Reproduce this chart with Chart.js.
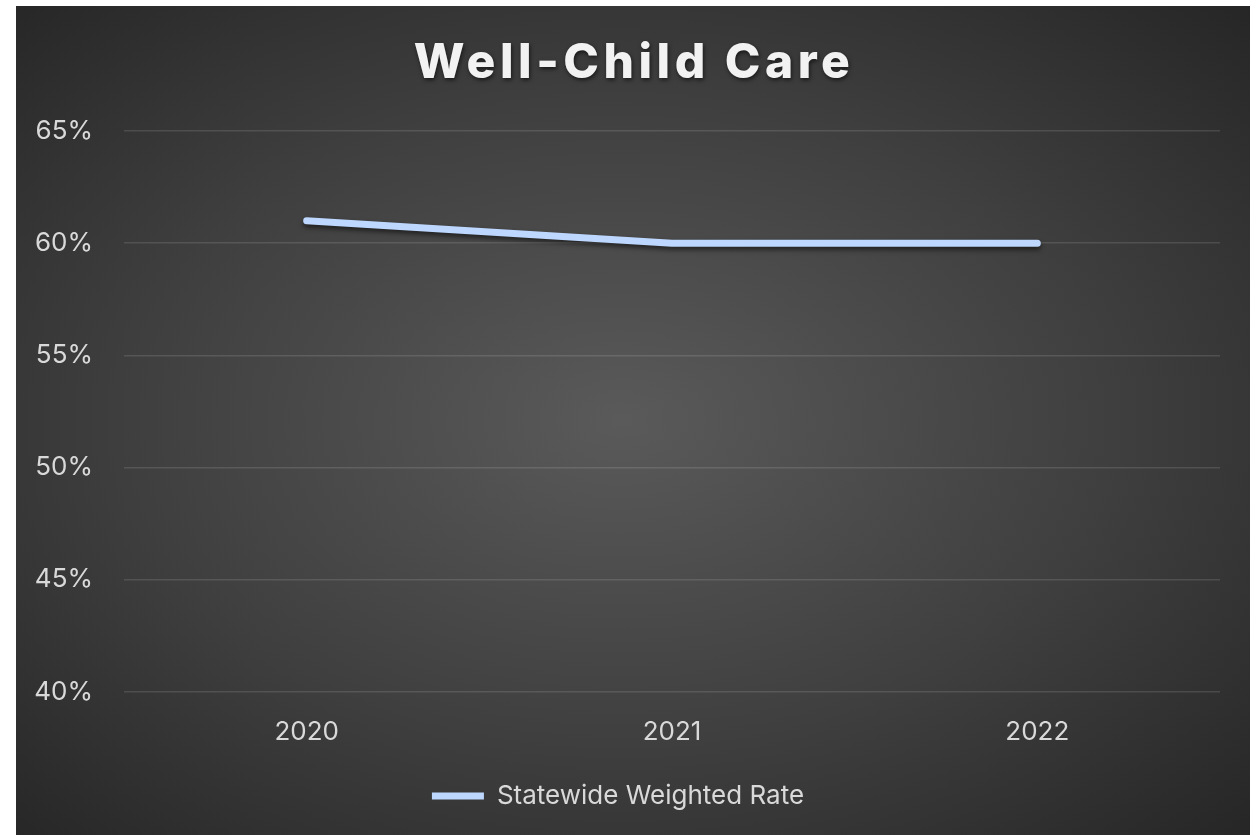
<!DOCTYPE html>
<html lang="en">

<head>
    <meta charset="UTF-8">
    <title>Well-Child Care</title>
    <script src="https://cdn.jsdelivr.net/npm/chart.js"></script>
    <style>
        body {
            margin: 0;
            background: #ffffff;
        }
        .chart-box {
            position: absolute;
            left: 16px;
            top: 6px;
            width: 1234px;
            height: 829px;
            background: radial-gradient(ellipse at 49% 50%, #5a5a5a 0%, #3f3f3f 55%, #262626 100%);
        }
    </style>
</head>

<body>
    <div class="chart-box">
        <canvas id="rateChart" width="1234" height="829"></canvas>
    </div>

    <script>
        const years = ['2020', '2021', '2022'];
        const statewideRate = [61, 60, 60];
        const yTicks = [40, 45, 50, 55, 60, 65];

        const titleText = 'Well-Child Care';
        const labelColor = '#d9d9d9';

        // title drawn by hand so it can have letter spacing and a soft shadow
        const titlePlugin = {
            id: 'spacedTitle',
            afterDraw(chart) {
                const ctx = chart.ctx;
                ctx.save();
                ctx.font = '800 48px Inter';
                ctx.letterSpacing = '4.5px';
                ctx.fillStyle = '#f2f2f2';
                ctx.textAlign = 'center';
                ctx.textBaseline = 'alphabetic';
                ctx.shadowColor = 'rgba(0,0,0,0.6)';
                ctx.shadowBlur = 4;
                ctx.shadowOffsetX = 1;
                ctx.shadowOffsetY = 2;
                ctx.fillText(titleText, chart.width / 2 + 1, 72);
                ctx.restore();
            }
        };

        // drop shadow under the series line
        const lineShadow = {
            id: 'lineShadow',
            beforeDatasetDraw(chart) {
                const ctx = chart.ctx;
                ctx.save();
                ctx.shadowColor = 'rgba(0,0,0,0.55)';
                ctx.shadowBlur = 5;
                ctx.shadowOffsetY = 3;
            },
            afterDatasetDraw(chart) {
                chart.ctx.restore();
            }
        };

        new Chart(document.getElementById('rateChart'), {
            type: 'line',
            data: {
                labels: years,
                datasets: [{
                    label: 'Statewide Weighted Rate',
                    data: statewideRate,
                    borderColor: '#bdd7ff',
                    backgroundColor: '#bdd7ff',
                    borderWidth: 7,
                    borderCapStyle: 'round',
                    borderJoinStyle: 'round',
                    pointRadius: 0,
                    pointHoverRadius: 0,
                    tension: 0
                }]
            },
            options: {
                responsive: false,
                animation: false,
                layout: {
                    padding: { top: 125, right: 30, left: 0, bottom: 16 }
                },
                scales: {
                    x: {
                        offset: true,
                        grid: { display: false, drawTicks: false },
                        border: { display: false },
                        ticks: {
                            color: labelColor,
                            padding: 25,
                            font: { family: 'Inter', size: 26 }
                        }
                    },
                    y: {
                        min: 40,
                        max: 65,
                        afterBuildTicks(scale) {
                            scale.ticks = yTicks.map(v => ({ value: v }));
                        },
                        afterFit(scale) {
                            scale.width = 108;
                        },
                        grid: {
                            color: 'rgba(255,255,255,0.12)',
                            lineWidth: 1.5,
                            drawTicks: false
                        },
                        border: { display: false },
                        ticks: {
                            color: labelColor,
                            padding: 31,
                            font: { family: 'Inter', size: 26 },
                            callback: v => v + '%'
                        }
                    }
                },
                plugins: {
                    title: { display: false },
                    tooltip: { enabled: false },
                    legend: {
                        position: 'bottom',
                        labels: {
                            color: labelColor,
                            font: { family: 'Inter', size: 26 },
                            usePointStyle: true,
                            pointStyle: 'line',
                            pointStyleWidth: 52,
                            padding: 10
                        }
                    }
                }
            },
            plugins: [titlePlugin, lineShadow]
        });
    </script>
</body>

</html>
